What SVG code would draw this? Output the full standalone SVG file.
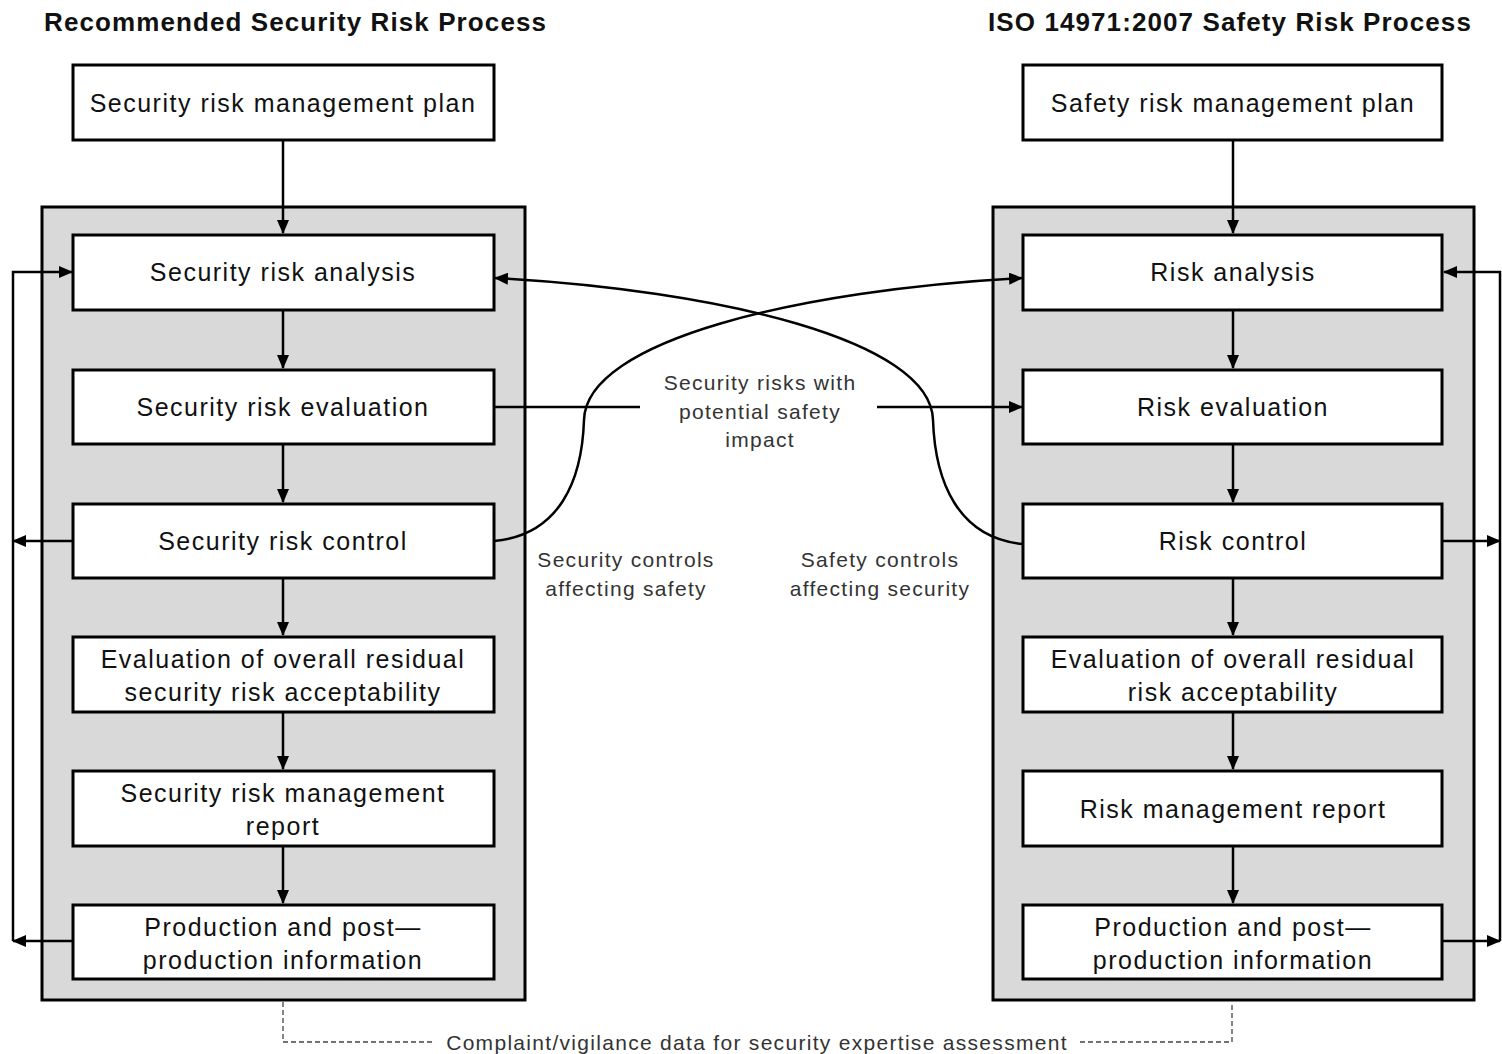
<svg xmlns="http://www.w3.org/2000/svg" width="1502" height="1054" viewBox="0 0 1502 1054">
<style>
.box{fill:#fff;stroke:#000;stroke-width:3}
.panel{fill:#d9d9d9;stroke:#000;stroke-width:3}
.t{font-family:"Liberation Sans",Arial,sans-serif;font-size:25px;fill:#111;text-anchor:middle;letter-spacing:1.5px}
.h{font-family:"Liberation Sans",Arial,sans-serif;font-size:26px;font-weight:bold;fill:#111;letter-spacing:1.1px}
.s{font-family:"Liberation Sans",Arial,sans-serif;font-size:21px;fill:#333;text-anchor:middle;letter-spacing:1.3px}
.c{fill:none;stroke:#000;stroke-width:2.5}
.d{fill:none;stroke:#444;stroke-width:1.3;stroke-dasharray:5 3}
</style>
<defs>
<marker id="a" markerUnits="userSpaceOnUse" markerWidth="14" markerHeight="12" refX="13" refY="6" orient="auto">
<path d="M0,0 L14,6 L0,12 z" fill="#000"/>
</marker>
</defs>
<text class="h" x="44" y="31">Recommended Security Risk Process</text>
<text class="h" x="1472" y="31" text-anchor="end">ISO 14971:2007 Safety Risk Process</text>
<rect class="panel" x="42" y="207" width="483" height="793"/>
<rect class="panel" x="993" y="207" width="481" height="793"/>
<g id="connectors">
<path class="c" d="M283,140 V233" marker-end="url(#a)"/>
<path class="c" d="M283,310 V368" marker-end="url(#a)"/>
<path class="c" d="M283,444 V502" marker-end="url(#a)"/>
<path class="c" d="M283,578 V635" marker-end="url(#a)"/>
<path class="c" d="M283,712 V769" marker-end="url(#a)"/>
<path class="c" d="M283,846 V903" marker-end="url(#a)"/>
<path class="c" d="M1233,140 V233" marker-end="url(#a)"/>
<path class="c" d="M1233,310 V368" marker-end="url(#a)"/>
<path class="c" d="M1233,444 V502" marker-end="url(#a)"/>
<path class="c" d="M1233,578 V635" marker-end="url(#a)"/>
<path class="c" d="M1233,712 V769" marker-end="url(#a)"/>
<path class="c" d="M1233,846 V903" marker-end="url(#a)"/>
<path class="c" d="M13,941 V272 H72" marker-end="url(#a)"/>
<path class="c" d="M73,541 H13" marker-end="url(#a)"/>
<path class="c" d="M73,941 H13" marker-end="url(#a)"/>
<path class="c" d="M1500,941 V272 H1444" marker-end="url(#a)"/>
<path class="c" d="M1442,541 H1500" marker-end="url(#a)"/>
<path class="c" d="M1442,941 H1500" marker-end="url(#a)"/>
<path class="c" d="M494,541 C560,535 582,480 584,420 C586,340 800,290 1022,278" marker-end="url(#a)"/>
<path class="c" d="M1023,544 C957,538 935,480 933,420 C931,340 717,290 495,278" marker-end="url(#a)"/>
<path class="c" d="M494,407 H640"/>
<path class="c" d="M877,407 H1022" marker-end="url(#a)"/>
<path class="d" d="M283,1002 V1042 H433"/>
<path class="d" d="M1080,1042 H1232 V1002"/>
</g>
<text class="s" x="760" y="390">Security risks with</text>
<text class="s" x="760" y="419">potential safety</text>
<text class="s" x="760" y="447">impact</text>
<text class="s" x="626" y="567">Security controls</text>
<text class="s" x="626" y="596">affecting safety</text>
<text class="s" x="880" y="567">Safety controls</text>
<text class="s" x="880" y="596">affecting security</text>
<text class="s" x="757" y="1050">Complaint/vigilance data for security expertise assessment</text>
<g id="n1"><rect class="box" x="73" y="65" width="421" height="75"/><text class="t" x="283" y="112">Security risk management plan</text></g>
<g id="n2"><rect class="box" x="73" y="235" width="421" height="75"/><text class="t" x="283" y="281">Security risk analysis</text></g>
<g id="n3"><rect class="box" x="73" y="370" width="421" height="74"/><text class="t" x="283" y="416">Security risk evaluation</text></g>
<g id="n4"><rect class="box" x="73" y="504" width="421" height="74"/><text class="t" x="283" y="550">Security risk control</text></g>
<g id="n5"><rect class="box" x="73" y="637" width="421" height="75"/><text class="t" x="283" y="668">Evaluation of overall residual</text><text class="t" x="283" y="701">security risk acceptability</text></g>
<g id="n6"><rect class="box" x="73" y="771" width="421" height="75"/><text class="t" x="283" y="802">Security risk management</text><text class="t" x="283" y="835">report</text></g>
<g id="n7"><rect class="box" x="73" y="905" width="421" height="74"/><text class="t" x="283" y="936">Production and post—</text><text class="t" x="283" y="969">production information</text></g>
<g id="m1"><rect class="box" x="1023" y="65" width="419" height="75"/><text class="t" x="1233" y="112">Safety risk management plan</text></g>
<g id="m2"><rect class="box" x="1023" y="235" width="419" height="75"/><text class="t" x="1233" y="281">Risk analysis</text></g>
<g id="m3"><rect class="box" x="1023" y="370" width="419" height="74"/><text class="t" x="1233" y="416">Risk evaluation</text></g>
<g id="m4"><rect class="box" x="1023" y="504" width="419" height="74"/><text class="t" x="1233" y="550">Risk control</text></g>
<g id="m5"><rect class="box" x="1023" y="637" width="419" height="75"/><text class="t" x="1233" y="668">Evaluation of overall residual</text><text class="t" x="1233" y="701">risk acceptability</text></g>
<g id="m6"><rect class="box" x="1023" y="771" width="419" height="75"/><text class="t" x="1233" y="818">Risk management report</text></g>
<g id="m7"><rect class="box" x="1023" y="905" width="419" height="74"/><text class="t" x="1233" y="936">Production and post—</text><text class="t" x="1233" y="969">production information</text></g>
</svg>
